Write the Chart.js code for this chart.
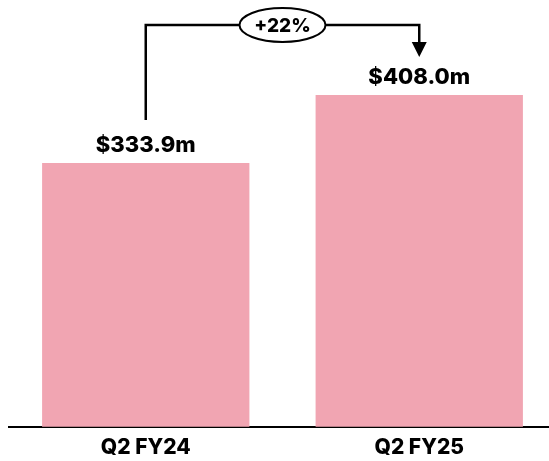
<!DOCTYPE html>
<html><head><meta charset="utf-8">
<script src="https://cdn.jsdelivr.net/npm/chart.js@4"></script>
<style>html,body{margin:0;padding:0;overflow:hidden;background:#fff;} #wrap{width:556px;height:468px;position:relative;}</style>
</head><body><div id="wrap"><canvas id="c"></canvas></div>
<script>
const categories = ['Q2 FY24', 'Q2 FY25'];
const revenue = [333.9, 408.0];
const valueLabels = ['$333.9m', '$408.0m'];
const changeLabel = '+22%';
const yMin = 45.5;
const yMax = 501;

const FONT = 'Inter, "DejaVu Sans", sans-serif';

const annotate = {
  id: 'annotate',
  afterDatasetsDraw(chart) {
    const ctx = chart.ctx;
    const meta = chart.getDatasetMeta(0);
    const b0 = meta.data[0], b1 = meta.data[1];
    ctx.save();
    ctx.fillStyle = '#000';
    ctx.textAlign = 'center';
    ctx.textBaseline = 'middle';
    ctx.font = '800 22px ' + FONT;
    meta.data.forEach((bar, i) => ctx.fillText(valueLabels[i], bar.x, bar.y - 18));

    const yStart = b0.y - 43;
    const yTop = chart.chartArea.top + 15;
    const yTip = b1.y - 38;
    ctx.strokeStyle = '#000';
    ctx.lineWidth = 2.5;
    ctx.beginPath();
    ctx.moveTo(b0.x, yStart);
    ctx.lineTo(b0.x, yTop);
    ctx.lineTo(b1.x, yTop);
    ctx.lineTo(b1.x, yTip - 14);
    ctx.stroke();
    ctx.beginPath();
    ctx.moveTo(b1.x - 7.5, yTip - 15);
    ctx.lineTo(b1.x + 7.5, yTip - 15);
    ctx.lineTo(b1.x, yTip);
    ctx.closePath();
    ctx.fill();

    const cx = (b0.x + b1.x) / 2;
    ctx.beginPath();
    ctx.ellipse(cx, yTop, 43, 17, 0, 0, Math.PI * 2);
    ctx.fillStyle = '#fff';
    ctx.fill();
    ctx.lineWidth = 2;
    ctx.stroke();
    ctx.fillStyle = '#000';
    ctx.font = '800 19px ' + FONT;
    ctx.fillText(changeLabel, cx, yTop + 1);
    ctx.restore();
  }
};

new Chart(document.getElementById('c'), {
  type: 'bar',
  data: {
    labels: categories,
    datasets: [{
      data: revenue,
      backgroundColor: '#F1A5B2',
      borderWidth: 0,
      barPercentage: 1,
      categoryPercentage: 0.758
    }]
  },
  options: {
    responsive: true,
    maintainAspectRatio: false,
    animation: false,
    layout: { padding: { left: 9, right: 0, top: 10, bottom: 0 } },
    plugins: { legend: { display: false }, tooltip: { enabled: false } },
    scales: {
      x: {
        grid: { display: false, drawTicks: false },
        border: { display: true, color: '#000', width: 2 },
        ticks: { color: '#000', padding: 8, font: { family: FONT, size: 21, weight: '800' } }
      },
      y: { display: false, min: yMin, max: yMax }
    }
  },
  plugins: [annotate]
});
</script>
</body></html>
